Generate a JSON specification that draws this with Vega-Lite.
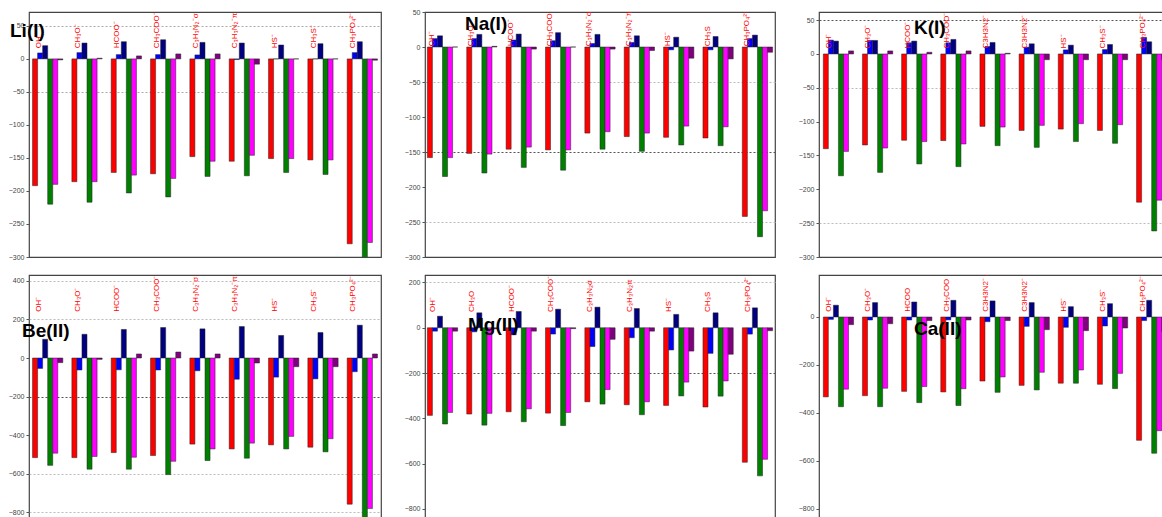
{
  "$schema": "https://vega.github.io/schema/vega-lite/v6.json",
  "padding": {"left": 7, "top": 7, "right": 0, "bottom": 0},
  "bounds": "flush",
  "columns": 3,
  "spacing": {"row": 18, "column": 44},
  "background": "white",
  "config": {
    "font": "Liberation Sans",
    "view": {"stroke": "#444", "strokeWidth": 1.2},
    "title": {"font": "Liberation Sans", "fontSize": 19, "fontWeight": "bold", "color": "#000", "anchor": "start", "frame": "group", "offset": 0, "baseline": "alphabetic"},
    "axisY": {"domain": false, "tickSize": 3, "tickColor": "#555", "labelFontSize": 7, "labelColor": "#444", "labelPadding": 2, "labelOverlap": false, "labelBound": false, "title": null, "gridDash": [2, 2], "gridWidth": 1},
    "scale": {"offsetBandPaddingInner": 0, "offsetBandPaddingOuter": 0}
  },
  "datasets": {
    "bars": [
      {"metal": "Li", "ligand": "OH", "series": "s1", "value": -192}, {"metal": "Li", "ligand": "OH", "series": "s2", "value": 9}, {"metal": "Li", "ligand": "OH", "series": "s3", "value": 20}, {"metal": "Li", "ligand": "OH", "series": "s4", "value": -220}, {"metal": "Li", "ligand": "OH", "series": "s5", "value": -190}, {"metal": "Li", "ligand": "OH", "series": "s6", "value": -1.5},
      {"metal": "Li", "ligand": "CH3O", "series": "s1", "value": -186}, {"metal": "Li", "ligand": "CH3O", "series": "s2", "value": 9.5}, {"metal": "Li", "ligand": "CH3O", "series": "s3", "value": 24}, {"metal": "Li", "ligand": "CH3O", "series": "s4", "value": -217}, {"metal": "Li", "ligand": "CH3O", "series": "s5", "value": -186}, {"metal": "Li", "ligand": "CH3O", "series": "s6", "value": 1},
      {"metal": "Li", "ligand": "HCOO", "series": "s1", "value": -172}, {"metal": "Li", "ligand": "HCOO", "series": "s2", "value": 6.5}, {"metal": "Li", "ligand": "HCOO", "series": "s3", "value": 26}, {"metal": "Li", "ligand": "HCOO", "series": "s4", "value": -203}, {"metal": "Li", "ligand": "HCOO", "series": "s5", "value": -176}, {"metal": "Li", "ligand": "HCOO", "series": "s6", "value": 4.5},
      {"metal": "Li", "ligand": "CH3COO", "series": "s1", "value": -174}, {"metal": "Li", "ligand": "CH3COO", "series": "s2", "value": 6.5}, {"metal": "Li", "ligand": "CH3COO", "series": "s3", "value": 29}, {"metal": "Li", "ligand": "CH3COO", "series": "s4", "value": -209}, {"metal": "Li", "ligand": "CH3COO", "series": "s5", "value": -181}, {"metal": "Li", "ligand": "CH3COO", "series": "s6", "value": 7.5},
      {"metal": "Li", "ligand": "C3H3N2s", "series": "s1", "value": -148}, {"metal": "Li", "ligand": "C3H3N2s", "series": "s2", "value": 6}, {"metal": "Li", "ligand": "C3H3N2s", "series": "s3", "value": 25}, {"metal": "Li", "ligand": "C3H3N2s", "series": "s4", "value": -178}, {"metal": "Li", "ligand": "C3H3N2s", "series": "s5", "value": -155}, {"metal": "Li", "ligand": "C3H3N2s", "series": "s6", "value": 7.5},
      {"metal": "Li", "ligand": "C3H3N2p", "series": "s1", "value": -155}, {"metal": "Li", "ligand": "C3H3N2p", "series": "s2", "value": -1}, {"metal": "Li", "ligand": "C3H3N2p", "series": "s3", "value": 24}, {"metal": "Li", "ligand": "C3H3N2p", "series": "s4", "value": -177}, {"metal": "Li", "ligand": "C3H3N2p", "series": "s5", "value": -146}, {"metal": "Li", "ligand": "C3H3N2p", "series": "s6", "value": -8},
      {"metal": "Li", "ligand": "HS", "series": "s1", "value": -151}, {"metal": "Li", "ligand": "HS", "series": "s2", "value": 0}, {"metal": "Li", "ligand": "HS", "series": "s3", "value": 21}, {"metal": "Li", "ligand": "HS", "series": "s4", "value": -172}, {"metal": "Li", "ligand": "HS", "series": "s5", "value": -151}, {"metal": "Li", "ligand": "HS", "series": "s6", "value": 0},
      {"metal": "Li", "ligand": "CH3S", "series": "s1", "value": -153}, {"metal": "Li", "ligand": "CH3S", "series": "s2", "value": 0}, {"metal": "Li", "ligand": "CH3S", "series": "s3", "value": 23}, {"metal": "Li", "ligand": "CH3S", "series": "s4", "value": -175}, {"metal": "Li", "ligand": "CH3S", "series": "s5", "value": -153}, {"metal": "Li", "ligand": "CH3S", "series": "s6", "value": 0},
      {"metal": "Li", "ligand": "CH3PO4", "series": "s1", "value": -280}, {"metal": "Li", "ligand": "CH3PO4", "series": "s2", "value": 9.5}, {"metal": "Li", "ligand": "CH3PO4", "series": "s3", "value": 26}, {"metal": "Li", "ligand": "CH3PO4", "series": "s4", "value": -302}, {"metal": "Li", "ligand": "CH3PO4", "series": "s5", "value": -278}, {"metal": "Li", "ligand": "CH3PO4", "series": "s6", "value": -2},

      {"metal": "Na", "ligand": "OH", "series": "s1", "value": -158}, {"metal": "Na", "ligand": "OH", "series": "s2", "value": 12}, {"metal": "Na", "ligand": "OH", "series": "s3", "value": 16}, {"metal": "Na", "ligand": "OH", "series": "s4", "value": -185}, {"metal": "Na", "ligand": "OH", "series": "s5", "value": -158}, {"metal": "Na", "ligand": "OH", "series": "s6", "value": 0},
      {"metal": "Na", "ligand": "CH3O", "series": "s1", "value": -152}, {"metal": "Na", "ligand": "CH3O", "series": "s2", "value": 12}, {"metal": "Na", "ligand": "CH3O", "series": "s3", "value": 18}, {"metal": "Na", "ligand": "CH3O", "series": "s4", "value": -180}, {"metal": "Na", "ligand": "CH3O", "series": "s5", "value": -153}, {"metal": "Na", "ligand": "CH3O", "series": "s6", "value": 1},
      {"metal": "Na", "ligand": "HCOO", "series": "s1", "value": -146}, {"metal": "Na", "ligand": "HCOO", "series": "s2", "value": 10}, {"metal": "Na", "ligand": "HCOO", "series": "s3", "value": 18.5}, {"metal": "Na", "ligand": "HCOO", "series": "s4", "value": -172}, {"metal": "Na", "ligand": "HCOO", "series": "s5", "value": -143}, {"metal": "Na", "ligand": "HCOO", "series": "s6", "value": -3},
      {"metal": "Na", "ligand": "CH3COO", "series": "s1", "value": -147}, {"metal": "Na", "ligand": "CH3COO", "series": "s2", "value": 9}, {"metal": "Na", "ligand": "CH3COO", "series": "s3", "value": 20.5}, {"metal": "Na", "ligand": "CH3COO", "series": "s4", "value": -176}, {"metal": "Na", "ligand": "CH3COO", "series": "s5", "value": -147}, {"metal": "Na", "ligand": "CH3COO", "series": "s6", "value": 0},
      {"metal": "Na", "ligand": "C3H3N2s", "series": "s1", "value": -123}, {"metal": "Na", "ligand": "C3H3N2s", "series": "s2", "value": 5}, {"metal": "Na", "ligand": "C3H3N2s", "series": "s3", "value": 18}, {"metal": "Na", "ligand": "C3H3N2s", "series": "s4", "value": -146}, {"metal": "Na", "ligand": "C3H3N2s", "series": "s5", "value": -121}, {"metal": "Na", "ligand": "C3H3N2s", "series": "s6", "value": -3},
      {"metal": "Na", "ligand": "C3H3N2p", "series": "s1", "value": -128}, {"metal": "Na", "ligand": "C3H3N2p", "series": "s2", "value": 6.5}, {"metal": "Na", "ligand": "C3H3N2p", "series": "s3", "value": 16}, {"metal": "Na", "ligand": "C3H3N2p", "series": "s4", "value": -149}, {"metal": "Na", "ligand": "C3H3N2p", "series": "s5", "value": -123}, {"metal": "Na", "ligand": "C3H3N2p", "series": "s6", "value": -5},
      {"metal": "Na", "ligand": "HS", "series": "s1", "value": -129}, {"metal": "Na", "ligand": "HS", "series": "s2", "value": -4}, {"metal": "Na", "ligand": "HS", "series": "s3", "value": 14}, {"metal": "Na", "ligand": "HS", "series": "s4", "value": -140}, {"metal": "Na", "ligand": "HS", "series": "s5", "value": -113}, {"metal": "Na", "ligand": "HS", "series": "s6", "value": -16},
      {"metal": "Na", "ligand": "CH3S", "series": "s1", "value": -130}, {"metal": "Na", "ligand": "CH3S", "series": "s2", "value": -4}, {"metal": "Na", "ligand": "CH3S", "series": "s3", "value": 15}, {"metal": "Na", "ligand": "CH3S", "series": "s4", "value": -141}, {"metal": "Na", "ligand": "CH3S", "series": "s5", "value": -114}, {"metal": "Na", "ligand": "CH3S", "series": "s6", "value": -17},
      {"metal": "Na", "ligand": "CH3PO4", "series": "s1", "value": -242}, {"metal": "Na", "ligand": "CH3PO4", "series": "s2", "value": 12}, {"metal": "Na", "ligand": "CH3PO4", "series": "s3", "value": 17}, {"metal": "Na", "ligand": "CH3PO4", "series": "s4", "value": -271}, {"metal": "Na", "ligand": "CH3PO4", "series": "s5", "value": -234}, {"metal": "Na", "ligand": "CH3PO4", "series": "s6", "value": -7.5},

      {"metal": "K", "ligand": "OH", "series": "s1", "value": -140}, {"metal": "K", "ligand": "OH", "series": "s2", "value": 20.5}, {"metal": "K", "ligand": "OH", "series": "s3", "value": 19}, {"metal": "K", "ligand": "OH", "series": "s4", "value": -180}, {"metal": "K", "ligand": "OH", "series": "s5", "value": -144}, {"metal": "K", "ligand": "OH", "series": "s6", "value": 4.5},
      {"metal": "K", "ligand": "CH3O", "series": "s1", "value": -134.5}, {"metal": "K", "ligand": "CH3O", "series": "s2", "value": 20}, {"metal": "K", "ligand": "CH3O", "series": "s3", "value": 20}, {"metal": "K", "ligand": "CH3O", "series": "s4", "value": -175}, {"metal": "K", "ligand": "CH3O", "series": "s5", "value": -139}, {"metal": "K", "ligand": "CH3O", "series": "s6", "value": 4.5},
      {"metal": "K", "ligand": "HCOO", "series": "s1", "value": -127.5}, {"metal": "K", "ligand": "HCOO", "series": "s2", "value": 16.5}, {"metal": "K", "ligand": "HCOO", "series": "s3", "value": 19}, {"metal": "K", "ligand": "HCOO", "series": "s4", "value": -162.5}, {"metal": "K", "ligand": "HCOO", "series": "s5", "value": -129.5}, {"metal": "K", "ligand": "HCOO", "series": "s6", "value": 2.5},
      {"metal": "K", "ligand": "CH3COO", "series": "s1", "value": -128}, {"metal": "K", "ligand": "CH3COO", "series": "s2", "value": 16.5}, {"metal": "K", "ligand": "CH3COO", "series": "s3", "value": 21.5}, {"metal": "K", "ligand": "CH3COO", "series": "s4", "value": -166.5}, {"metal": "K", "ligand": "CH3COO", "series": "s5", "value": -133}, {"metal": "K", "ligand": "CH3COO", "series": "s6", "value": 4.5},
      {"metal": "K", "ligand": "C3H3N2s", "series": "s1", "value": -107}, {"metal": "K", "ligand": "C3H3N2s", "series": "s2", "value": 11}, {"metal": "K", "ligand": "C3H3N2s", "series": "s3", "value": 17}, {"metal": "K", "ligand": "C3H3N2s", "series": "s4", "value": -135.5}, {"metal": "K", "ligand": "C3H3N2s", "series": "s5", "value": -108}, {"metal": "K", "ligand": "C3H3N2s", "series": "s6", "value": 1},
      {"metal": "K", "ligand": "C3H3N2p", "series": "s1", "value": -113}, {"metal": "K", "ligand": "C3H3N2p", "series": "s2", "value": 10}, {"metal": "K", "ligand": "C3H3N2p", "series": "s3", "value": 15}, {"metal": "K", "ligand": "C3H3N2p", "series": "s4", "value": -138}, {"metal": "K", "ligand": "C3H3N2p", "series": "s5", "value": -105.5}, {"metal": "K", "ligand": "C3H3N2p", "series": "s6", "value": -8.5},
      {"metal": "K", "ligand": "HS", "series": "s1", "value": -111}, {"metal": "K", "ligand": "HS", "series": "s2", "value": 6}, {"metal": "K", "ligand": "HS", "series": "s3", "value": 13}, {"metal": "K", "ligand": "HS", "series": "s4", "value": -129.5}, {"metal": "K", "ligand": "HS", "series": "s5", "value": -103}, {"metal": "K", "ligand": "HS", "series": "s6", "value": -8.5},
      {"metal": "K", "ligand": "CH3S", "series": "s1", "value": -113}, {"metal": "K", "ligand": "CH3S", "series": "s2", "value": 6.5}, {"metal": "K", "ligand": "CH3S", "series": "s3", "value": 14}, {"metal": "K", "ligand": "CH3S", "series": "s4", "value": -132}, {"metal": "K", "ligand": "CH3S", "series": "s5", "value": -104.5}, {"metal": "K", "ligand": "CH3S", "series": "s6", "value": -8.5},
      {"metal": "K", "ligand": "CH3PO4", "series": "s1", "value": -219}, {"metal": "K", "ligand": "CH3PO4", "series": "s2", "value": 24.5}, {"metal": "K", "ligand": "CH3PO4", "series": "s3", "value": 18}, {"metal": "K", "ligand": "CH3PO4", "series": "s4", "value": -261.5}, {"metal": "K", "ligand": "CH3PO4", "series": "s5", "value": -216}, {"metal": "K", "ligand": "CH3PO4", "series": "s6", "value": -8},

      {"metal": "Be", "ligand": "OH", "series": "s1", "value": -516}, {"metal": "Be", "ligand": "OH", "series": "s2", "value": -54}, {"metal": "Be", "ligand": "OH", "series": "s3", "value": 97}, {"metal": "Be", "ligand": "OH", "series": "s4", "value": -556}, {"metal": "Be", "ligand": "OH", "series": "s5", "value": -493}, {"metal": "Be", "ligand": "OH", "series": "s6", "value": -24},
      {"metal": "Be", "ligand": "CH3O", "series": "s1", "value": -516}, {"metal": "Be", "ligand": "CH3O", "series": "s2", "value": -62}, {"metal": "Be", "ligand": "CH3O", "series": "s3", "value": 123}, {"metal": "Be", "ligand": "CH3O", "series": "s4", "value": -576}, {"metal": "Be", "ligand": "CH3O", "series": "s5", "value": -510}, {"metal": "Be", "ligand": "CH3O", "series": "s6", "value": -7},
      {"metal": "Be", "ligand": "HCOO", "series": "s1", "value": -490}, {"metal": "Be", "ligand": "HCOO", "series": "s2", "value": -61}, {"metal": "Be", "ligand": "HCOO", "series": "s3", "value": 148}, {"metal": "Be", "ligand": "HCOO", "series": "s4", "value": -576}, {"metal": "Be", "ligand": "HCOO", "series": "s5", "value": -514}, {"metal": "Be", "ligand": "HCOO", "series": "s6", "value": 21},
      {"metal": "Be", "ligand": "CH3COO", "series": "s1", "value": -505}, {"metal": "Be", "ligand": "CH3COO", "series": "s2", "value": -62}, {"metal": "Be", "ligand": "CH3COO", "series": "s3", "value": 158}, {"metal": "Be", "ligand": "CH3COO", "series": "s4", "value": -604}, {"metal": "Be", "ligand": "CH3COO", "series": "s5", "value": -535}, {"metal": "Be", "ligand": "CH3COO", "series": "s6", "value": 31},
      {"metal": "Be", "ligand": "C3H3N2s", "series": "s1", "value": -446}, {"metal": "Be", "ligand": "C3H3N2s", "series": "s2", "value": -66}, {"metal": "Be", "ligand": "C3H3N2s", "series": "s3", "value": 151}, {"metal": "Be", "ligand": "C3H3N2s", "series": "s4", "value": -531}, {"metal": "Be", "ligand": "C3H3N2s", "series": "s5", "value": -471}, {"metal": "Be", "ligand": "C3H3N2s", "series": "s6", "value": 21},
      {"metal": "Be", "ligand": "C3H3N2p", "series": "s1", "value": -471}, {"metal": "Be", "ligand": "C3H3N2p", "series": "s2", "value": -110}, {"metal": "Be", "ligand": "C3H3N2p", "series": "s3", "value": 163}, {"metal": "Be", "ligand": "C3H3N2p", "series": "s4", "value": -519}, {"metal": "Be", "ligand": "C3H3N2p", "series": "s5", "value": -441}, {"metal": "Be", "ligand": "C3H3N2p", "series": "s6", "value": -26},
      {"metal": "Be", "ligand": "HS", "series": "s1", "value": -450}, {"metal": "Be", "ligand": "HS", "series": "s2", "value": -99}, {"metal": "Be", "ligand": "HS", "series": "s3", "value": 117}, {"metal": "Be", "ligand": "HS", "series": "s4", "value": -471}, {"metal": "Be", "ligand": "HS", "series": "s5", "value": -406}, {"metal": "Be", "ligand": "HS", "series": "s6", "value": -45},
      {"metal": "Be", "ligand": "CH3S", "series": "s1", "value": -462}, {"metal": "Be", "ligand": "CH3S", "series": "s2", "value": -108}, {"metal": "Be", "ligand": "CH3S", "series": "s3", "value": 132}, {"metal": "Be", "ligand": "CH3S", "series": "s4", "value": -486}, {"metal": "Be", "ligand": "CH3S", "series": "s5", "value": -418}, {"metal": "Be", "ligand": "CH3S", "series": "s6", "value": -45},
      {"metal": "Be", "ligand": "CH3PO4", "series": "s1", "value": -757}, {"metal": "Be", "ligand": "CH3PO4", "series": "s2", "value": -71}, {"metal": "Be", "ligand": "CH3PO4", "series": "s3", "value": 170}, {"metal": "Be", "ligand": "CH3PO4", "series": "s4", "value": -840}, {"metal": "Be", "ligand": "CH3PO4", "series": "s5", "value": -780}, {"metal": "Be", "ligand": "CH3PO4", "series": "s6", "value": 21},

      {"metal": "Mg", "ligand": "OH", "series": "s1", "value": -387}, {"metal": "Mg", "ligand": "OH", "series": "s2", "value": -15}, {"metal": "Mg", "ligand": "OH", "series": "s3", "value": 51}, {"metal": "Mg", "ligand": "OH", "series": "s4", "value": -425}, {"metal": "Mg", "ligand": "OH", "series": "s5", "value": -374}, {"metal": "Mg", "ligand": "OH", "series": "s6", "value": -15},
      {"metal": "Mg", "ligand": "CH3O", "series": "s1", "value": -381}, {"metal": "Mg", "ligand": "CH3O", "series": "s2", "value": -18}, {"metal": "Mg", "ligand": "CH3O", "series": "s3", "value": 66}, {"metal": "Mg", "ligand": "CH3O", "series": "s4", "value": -430}, {"metal": "Mg", "ligand": "CH3O", "series": "s5", "value": -378}, {"metal": "Mg", "ligand": "CH3O", "series": "s6", "value": -5},
      {"metal": "Mg", "ligand": "HCOO", "series": "s1", "value": -371}, {"metal": "Mg", "ligand": "HCOO", "series": "s2", "value": -31}, {"metal": "Mg", "ligand": "HCOO", "series": "s3", "value": 72}, {"metal": "Mg", "ligand": "HCOO", "series": "s4", "value": -415}, {"metal": "Mg", "ligand": "HCOO", "series": "s5", "value": -358}, {"metal": "Mg", "ligand": "HCOO", "series": "s6", "value": -15},
      {"metal": "Mg", "ligand": "CH3COO", "series": "s1", "value": -377}, {"metal": "Mg", "ligand": "CH3COO", "series": "s2", "value": -28}, {"metal": "Mg", "ligand": "CH3COO", "series": "s3", "value": 82}, {"metal": "Mg", "ligand": "CH3COO", "series": "s4", "value": -432}, {"metal": "Mg", "ligand": "CH3COO", "series": "s5", "value": -374}, {"metal": "Mg", "ligand": "CH3COO", "series": "s6", "value": -4},
      {"metal": "Mg", "ligand": "C3H3N2s", "series": "s1", "value": -327}, {"metal": "Mg", "ligand": "C3H3N2s", "series": "s2", "value": -83}, {"metal": "Mg", "ligand": "C3H3N2s", "series": "s3", "value": 91}, {"metal": "Mg", "ligand": "C3H3N2s", "series": "s4", "value": -337}, {"metal": "Mg", "ligand": "C3H3N2s", "series": "s5", "value": -273}, {"metal": "Mg", "ligand": "C3H3N2s", "series": "s6", "value": -51},
      {"metal": "Mg", "ligand": "C3H3N2p", "series": "s1", "value": -340}, {"metal": "Mg", "ligand": "C3H3N2p", "series": "s2", "value": -44}, {"metal": "Mg", "ligand": "C3H3N2p", "series": "s3", "value": 85}, {"metal": "Mg", "ligand": "C3H3N2p", "series": "s4", "value": -384}, {"metal": "Mg", "ligand": "C3H3N2p", "series": "s5", "value": -327}, {"metal": "Mg", "ligand": "C3H3N2p", "series": "s6", "value": -15},
      {"metal": "Mg", "ligand": "HS", "series": "s1", "value": -343}, {"metal": "Mg", "ligand": "HS", "series": "s2", "value": -98}, {"metal": "Mg", "ligand": "HS", "series": "s3", "value": 59}, {"metal": "Mg", "ligand": "HS", "series": "s4", "value": -301}, {"metal": "Mg", "ligand": "HS", "series": "s5", "value": -240}, {"metal": "Mg", "ligand": "HS", "series": "s6", "value": -103},
      {"metal": "Mg", "ligand": "CH3S", "series": "s1", "value": -350}, {"metal": "Mg", "ligand": "CH3S", "series": "s2", "value": -113}, {"metal": "Mg", "ligand": "CH3S", "series": "s3", "value": 66}, {"metal": "Mg", "ligand": "CH3S", "series": "s4", "value": -302}, {"metal": "Mg", "ligand": "CH3S", "series": "s5", "value": -235}, {"metal": "Mg", "ligand": "CH3S", "series": "s6", "value": -117},
      {"metal": "Mg", "ligand": "CH3PO4", "series": "s1", "value": -594}, {"metal": "Mg", "ligand": "CH3PO4", "series": "s2", "value": -28}, {"metal": "Mg", "ligand": "CH3PO4", "series": "s3", "value": 88}, {"metal": "Mg", "ligand": "CH3PO4", "series": "s4", "value": -654}, {"metal": "Mg", "ligand": "CH3PO4", "series": "s5", "value": -581}, {"metal": "Mg", "ligand": "CH3PO4", "series": "s6", "value": -13},

      {"metal": "Ca", "ligand": "OH", "series": "s1", "value": -333}, {"metal": "Ca", "ligand": "OH", "series": "s2", "value": -10}, {"metal": "Ca", "ligand": "OH", "series": "s3", "value": 49}, {"metal": "Ca", "ligand": "OH", "series": "s4", "value": -374}, {"metal": "Ca", "ligand": "OH", "series": "s5", "value": -301}, {"metal": "Ca", "ligand": "OH", "series": "s6", "value": -32},
      {"metal": "Ca", "ligand": "CH3O", "series": "s1", "value": -328}, {"metal": "Ca", "ligand": "CH3O", "series": "s2", "value": -12.5}, {"metal": "Ca", "ligand": "CH3O", "series": "s3", "value": 60}, {"metal": "Ca", "ligand": "CH3O", "series": "s4", "value": -374}, {"metal": "Ca", "ligand": "CH3O", "series": "s5", "value": -297}, {"metal": "Ca", "ligand": "CH3O", "series": "s6", "value": -28},
      {"metal": "Ca", "ligand": "HCOO", "series": "s1", "value": -310}, {"metal": "Ca", "ligand": "HCOO", "series": "s2", "value": -12.5}, {"metal": "Ca", "ligand": "HCOO", "series": "s3", "value": 62.5}, {"metal": "Ca", "ligand": "HCOO", "series": "s4", "value": -357}, {"metal": "Ca", "ligand": "HCOO", "series": "s5", "value": -290}, {"metal": "Ca", "ligand": "HCOO", "series": "s6", "value": -15},
      {"metal": "Ca", "ligand": "CH3COO", "series": "s1", "value": -312.5}, {"metal": "Ca", "ligand": "CH3COO", "series": "s2", "value": -12}, {"metal": "Ca", "ligand": "CH3COO", "series": "s3", "value": 69.5}, {"metal": "Ca", "ligand": "CH3COO", "series": "s4", "value": -369}, {"metal": "Ca", "ligand": "CH3COO", "series": "s5", "value": -299}, {"metal": "Ca", "ligand": "CH3COO", "series": "s6", "value": -12.5},
      {"metal": "Ca", "ligand": "C3H3N2s", "series": "s1", "value": -267}, {"metal": "Ca", "ligand": "C3H3N2s", "series": "s2", "value": -19.5}, {"metal": "Ca", "ligand": "C3H3N2s", "series": "s3", "value": 67}, {"metal": "Ca", "ligand": "C3H3N2s", "series": "s4", "value": -314}, {"metal": "Ca", "ligand": "C3H3N2s", "series": "s5", "value": -250}, {"metal": "Ca", "ligand": "C3H3N2s", "series": "s6", "value": -15},
      {"metal": "Ca", "ligand": "C3H3N2p", "series": "s1", "value": -285}, {"metal": "Ca", "ligand": "C3H3N2p", "series": "s2", "value": -39}, {"metal": "Ca", "ligand": "C3H3N2p", "series": "s3", "value": 60}, {"metal": "Ca", "ligand": "C3H3N2p", "series": "s4", "value": -304}, {"metal": "Ca", "ligand": "C3H3N2p", "series": "s5", "value": -230.5}, {"metal": "Ca", "ligand": "C3H3N2p", "series": "s6", "value": -53},
      {"metal": "Ca", "ligand": "HS", "series": "s1", "value": -276}, {"metal": "Ca", "ligand": "HS", "series": "s2", "value": -43}, {"metal": "Ca", "ligand": "HS", "series": "s3", "value": 43}, {"metal": "Ca", "ligand": "HS", "series": "s4", "value": -276}, {"metal": "Ca", "ligand": "HS", "series": "s5", "value": -221}, {"metal": "Ca", "ligand": "HS", "series": "s6", "value": -57},
      {"metal": "Ca", "ligand": "CH3S", "series": "s1", "value": -280.5}, {"metal": "Ca", "ligand": "CH3S", "series": "s2", "value": -37.5}, {"metal": "Ca", "ligand": "CH3S", "series": "s3", "value": 55.5}, {"metal": "Ca", "ligand": "CH3S", "series": "s4", "value": -298.5}, {"metal": "Ca", "ligand": "CH3S", "series": "s5", "value": -235}, {"metal": "Ca", "ligand": "CH3S", "series": "s6", "value": -46},
      {"metal": "Ca", "ligand": "CH3PO4", "series": "s1", "value": -514}, {"metal": "Ca", "ligand": "CH3PO4", "series": "s2", "value": -15}, {"metal": "Ca", "ligand": "CH3PO4", "series": "s3", "value": 69.5}, {"metal": "Ca", "ligand": "CH3PO4", "series": "s4", "value": -568}, {"metal": "Ca", "ligand": "CH3PO4", "series": "s5", "value": -474}, {"metal": "Ca", "ligand": "CH3PO4", "series": "s6", "value": -60}
    ],
    "labels": [
      {"metal": "Li", "ligand": "OH", "label": "OH⁻"}, {"metal": "Li", "ligand": "CH3O", "label": "CH₃O⁻"}, {"metal": "Li", "ligand": "HCOO", "label": "HCOO⁻"}, {"metal": "Li", "ligand": "CH3COO", "label": "CH₃COO⁻"}, {"metal": "Li", "ligand": "C3H3N2s", "label": "C₃H₃N₂⁻σ"}, {"metal": "Li", "ligand": "C3H3N2p", "label": "C₃H₃N₂⁻π"}, {"metal": "Li", "ligand": "HS", "label": "HS⁻"}, {"metal": "Li", "ligand": "CH3S", "label": "CH₃S⁻"}, {"metal": "Li", "ligand": "CH3PO4", "label": "CH₃PO₄²⁻"},
      {"metal": "Na", "ligand": "OH", "label": "OH⁻"}, {"metal": "Na", "ligand": "CH3O", "label": "CH₃O⁻"}, {"metal": "Na", "ligand": "HCOO", "label": "HCOO⁻"}, {"metal": "Na", "ligand": "CH3COO", "label": "CH₃COO⁻"}, {"metal": "Na", "ligand": "C3H3N2s", "label": "C₃H₃N₂⁻σ"}, {"metal": "Na", "ligand": "C3H3N2p", "label": "C₃H₃N₂⁻π"}, {"metal": "Na", "ligand": "HS", "label": "HS⁻"}, {"metal": "Na", "ligand": "CH3S", "label": "CH₃S"}, {"metal": "Na", "ligand": "CH3PO4", "label": "CH₃PO₄²⁻"},
      {"metal": "K", "ligand": "OH", "label": "OH⁻"}, {"metal": "K", "ligand": "CH3O", "label": "CH₃O⁻"}, {"metal": "K", "ligand": "HCOO", "label": "HCOO⁻"}, {"metal": "K", "ligand": "CH3COO", "label": "CH₃COO⁻"}, {"metal": "K", "ligand": "C3H3N2s", "label": "C3H3N2⁻ σ"}, {"metal": "K", "ligand": "C3H3N2p", "label": "C3H3N2⁻ π"}, {"metal": "K", "ligand": "HS", "label": "HS⁻"}, {"metal": "K", "ligand": "CH3S", "label": "CH₃S⁻"}, {"metal": "K", "ligand": "CH3PO4", "label": "CH₃PO₄²⁻"},
      {"metal": "Be", "ligand": "OH", "label": "OH⁻"}, {"metal": "Be", "ligand": "CH3O", "label": "CH₃O⁻"}, {"metal": "Be", "ligand": "HCOO", "label": "HCOO⁻"}, {"metal": "Be", "ligand": "CH3COO", "label": "CH₃COO⁻"}, {"metal": "Be", "ligand": "C3H3N2s", "label": "C₃H₃N₂⁻σ"}, {"metal": "Be", "ligand": "C3H3N2p", "label": "C₃H₃N₂⁻π"}, {"metal": "Be", "ligand": "HS", "label": "HS⁻"}, {"metal": "Be", "ligand": "CH3S", "label": "CH₃S⁻"}, {"metal": "Be", "ligand": "CH3PO4", "label": "CH₃PO₄²⁻"},
      {"metal": "Mg", "ligand": "OH", "label": "OH⁻"}, {"metal": "Mg", "ligand": "CH3O", "label": "CH₃O"}, {"metal": "Mg", "ligand": "HCOO", "label": "HCOO⁻"}, {"metal": "Mg", "ligand": "CH3COO", "label": "CH₃COO⁻"}, {"metal": "Mg", "ligand": "C3H3N2s", "label": "C₃H₃N₂σ"}, {"metal": "Mg", "ligand": "C3H3N2p", "label": "C₃H₃N₂π"}, {"metal": "Mg", "ligand": "HS", "label": "HS⁻"}, {"metal": "Mg", "ligand": "CH3S", "label": "CH₃S"}, {"metal": "Mg", "ligand": "CH3PO4", "label": "CH₃PO₄²⁻"},
      {"metal": "Ca", "ligand": "OH", "label": "OH⁻"}, {"metal": "Ca", "ligand": "CH3O", "label": "CH₃O⁻"}, {"metal": "Ca", "ligand": "HCOO", "label": "HCOO"}, {"metal": "Ca", "ligand": "CH3COO", "label": "CH₃COO"}, {"metal": "Ca", "ligand": "C3H3N2s", "label": "C3H3N2⁻ σ"}, {"metal": "Ca", "ligand": "C3H3N2p", "label": "C3H3N2⁻ π"}, {"metal": "Ca", "ligand": "HS", "label": "HS⁻"}, {"metal": "Ca", "ligand": "CH3S", "label": "CH₃S⁻"}, {"metal": "Ca", "ligand": "CH3PO4", "label": "CH₃PO₄²⁻"}
    ]
  },
  "concat": [
    {
      "width": 352, "height": 245,
      "title": {"text": "Li(I)", "dx": -19, "dy": 33},
      "resolve": {"axis": {"y": "independent"}},
      "layer": [
        {"data": {"name": "bars"}, "transform": [{"filter": "datum.metal == 'Li'"}],
         "mark": {"type": "bar", "clip": true, "stroke": "#222", "strokeWidth": 0.5},
         "encoding": {
           "x": {"field": "ligand", "type": "nominal", "sort": ["OH", "CH3O", "HCOO", "CH3COO", "C3H3N2s", "C3H3N2p", "HS", "CH3S", "CH3PO4"], "axis": null, "scale": {"paddingInner": 0.23, "paddingOuter": 0.09}},
           "xOffset": {"field": "series", "type": "nominal", "sort": ["s1", "s2", "s3", "s4", "s5", "s6"]},
           "y": {"field": "value", "type": "quantitative", "scale": {"domain": [-300, 71], "nice": false, "zero": false},
                 "axis": {"title": null, "values": [50, 0, -50, -100, -150, -200, -250, -300], "grid": true,
                          "gridOpacity": {"condition": {"test": "datum.value == 50 || datum.value == -50", "value": 1}, "value": 0},
                          "gridColor": "#aaa"}},
           "color": {"field": "series", "type": "nominal", "legend": null, "scale": {"domain": ["s1", "s2", "s3", "s4", "s5", "s6"], "range": ["#ff0000", "#0000ff", "#000080", "#008000", "#ff00ff", "#800080"]}}
         }},
        {"mark": {"type": "rule", "color": "#888", "strokeWidth": 1.5}, "encoding": {"y": {"datum": 0, "type": "quantitative", "axis": null}}},
        {"data": {"name": "labels"}, "transform": [{"filter": "datum.metal == 'Li'"}],
         "mark": {"type": "text", "angle": 270, "align": "left", "baseline": "middle", "fontSize": 8, "color": "#ff0000", "clip": true},
         "encoding": {
           "x": {"field": "ligand", "type": "nominal", "bandPosition": 0.2, "sort": ["OH", "CH3O", "HCOO", "CH3COO", "C3H3N2s", "C3H3N2p", "HS", "CH3S", "CH3PO4"]},
           "y": {"datum": 16, "type": "quantitative", "axis": null},
           "text": {"field": "label"}
         }}
      ]
    },
    {
      "width": 350, "height": 245,
      "title": {"text": "Na(I)", "dx": 40, "dy": 30},
      "resolve": {"axis": {"y": "independent"}},
      "layer": [
        {"data": {"name": "bars"}, "transform": [{"filter": "datum.metal == 'Na'"}],
         "mark": {"type": "bar", "clip": true, "stroke": "#222", "strokeWidth": 0.5},
         "encoding": {
           "x": {"field": "ligand", "type": "nominal", "sort": ["OH", "CH3O", "HCOO", "CH3COO", "C3H3N2s", "C3H3N2p", "HS", "CH3S", "CH3PO4"], "axis": null, "scale": {"paddingInner": 0.23, "paddingOuter": 0.06}},
           "xOffset": {"field": "series", "type": "nominal", "sort": ["s1", "s2", "s3", "s4", "s5", "s6"]},
           "y": {"field": "value", "type": "quantitative", "scale": {"domain": [-300, 50], "nice": false, "zero": false},
                 "axis": {"title": null, "values": [50, 0, -50, -100, -150, -200, -250, -300], "grid": true,
                          "gridOpacity": {"condition": {"test": "datum.value == -50 || datum.value == -150 || datum.value == -250", "value": 1}, "value": 0},
                          "gridColor": {"condition": {"test": "datum.value == -150", "value": "#555"}, "value": "#bbb"}}},
           "color": {"field": "series", "type": "nominal", "legend": null}
         }},
        {"mark": {"type": "rule", "color": "#444", "strokeWidth": 1.2}, "encoding": {"y": {"datum": 0, "type": "quantitative", "axis": null}}},
        {"data": {"name": "labels"}, "transform": [{"filter": "datum.metal == 'Na'"}],
         "mark": {"type": "text", "angle": 270, "align": "left", "baseline": "middle", "fontSize": 8, "color": "#ff0000", "clip": true},
         "encoding": {
           "x": {"field": "ligand", "type": "nominal", "bandPosition": 0.15, "sort": ["OH", "CH3O", "HCOO", "CH3COO", "C3H3N2s", "C3H3N2p", "HS", "CH3S", "CH3PO4"]},
           "y": {"datum": 1, "type": "quantitative", "axis": null},
           "text": {"field": "label"}
         }}
      ]
    },
    {
      "width": 352, "height": 245,
      "title": {"text": "K(I)", "dx": 95, "dy": 30},
      "resolve": {"axis": {"y": "independent"}},
      "layer": [
        {"data": {"name": "bars"}, "transform": [{"filter": "datum.metal == 'K'"}],
         "mark": {"type": "bar", "clip": true, "stroke": "#222", "strokeWidth": 0.5},
         "encoding": {
           "x": {"field": "ligand", "type": "nominal", "sort": ["OH", "CH3O", "HCOO", "CH3COO", "C3H3N2s", "C3H3N2p", "HS", "CH3S", "CH3PO4"], "axis": null, "scale": {"paddingInner": 0.23, "paddingOuter": 0.11}},
           "xOffset": {"field": "series", "type": "nominal", "sort": ["s1", "s2", "s3", "s4", "s5", "s6"]},
           "y": {"field": "value", "type": "quantitative", "scale": {"domain": [-300, 62], "nice": false, "zero": false},
                 "axis": {"title": null, "values": [50, 0, -50, -100, -150, -200, -250, -300], "grid": true,
                          "gridOpacity": {"condition": {"test": "datum.value == 50 || datum.value == -50 || datum.value == -250", "value": 1}, "value": 0},
                          "gridColor": {"condition": {"test": "datum.value == 50", "value": "#555"}, "value": "#bbb"}}},
           "color": {"field": "series", "type": "nominal", "legend": null}
         }},
        {"mark": {"type": "rule", "color": "#444", "strokeWidth": 1.2}, "encoding": {"y": {"datum": 0, "type": "quantitative", "axis": null}}},
        {"data": {"name": "labels"}, "transform": [{"filter": "datum.metal == 'K'"}],
         "mark": {"type": "text", "angle": 270, "align": "left", "baseline": "middle", "fontSize": 8, "color": "#ff0000", "clip": true},
         "encoding": {
           "x": {"field": "ligand", "type": "nominal", "bandPosition": 0.2, "sort": ["OH", "CH3O", "HCOO", "CH3COO", "C3H3N2s", "C3H3N2p", "HS", "CH3S", "CH3PO4"]},
           "y": {"datum": 8, "type": "quantitative", "axis": null},
           "text": {"field": "label"}
         }}
      ]
    },
    {
      "width": 352, "height": 250,
      "title": {"text": "Be(II)", "dx": -7, "dy": 70},
      "resolve": {"axis": {"y": "independent"}},
      "layer": [
        {"data": {"name": "bars"}, "transform": [{"filter": "datum.metal == 'Be'"}],
         "mark": {"type": "bar", "clip": true, "stroke": "#222", "strokeWidth": 0.5},
         "encoding": {
           "x": {"field": "ligand", "type": "nominal", "sort": ["OH", "CH3O", "HCOO", "CH3COO", "C3H3N2s", "C3H3N2p", "HS", "CH3S", "CH3PO4"], "axis": null, "scale": {"paddingInner": 0.23, "paddingOuter": 0.09}},
           "xOffset": {"field": "series", "type": "nominal", "sort": ["s1", "s2", "s3", "s4", "s5", "s6"]},
           "y": {"field": "value", "type": "quantitative", "scale": {"domain": [-865, 430], "nice": false, "zero": false},
                 "axis": {"title": null, "values": [400, 200, 0, -200, -400, -600, -800], "grid": true,
                          "gridOpacity": {"condition": {"test": "datum.value != 0 && datum.value != -400", "value": 1}, "value": 0},
                          "gridColor": {"condition": {"test": "datum.value == -200", "value": "#555"}, "value": "#bbb"}}},
           "color": {"field": "series", "type": "nominal", "legend": null}
         }},
        {"mark": {"type": "rule", "color": "#888", "strokeWidth": 1.5}, "encoding": {"y": {"datum": 0, "type": "quantitative", "axis": null}}},
        {"data": {"name": "labels"}, "transform": [{"filter": "datum.metal == 'Be'"}],
         "mark": {"type": "text", "angle": 270, "align": "left", "baseline": "middle", "fontSize": 8, "color": "#ff0000", "clip": true},
         "encoding": {
           "x": {"field": "ligand", "type": "nominal", "bandPosition": 0.2, "sort": ["OH", "CH3O", "HCOO", "CH3COO", "C3H3N2s", "C3H3N2p", "HS", "CH3S", "CH3PO4"]},
           "y": {"datum": 240, "type": "quantitative", "axis": null},
           "text": {"field": "label"}
         }}
      ]
    },
    {
      "width": 350, "height": 250,
      "title": {"text": "Mg(II)", "dx": 43, "dy": 64},
      "resolve": {"axis": {"y": "independent"}},
      "layer": [
        {"data": {"name": "bars"}, "transform": [{"filter": "datum.metal == 'Mg'"}],
         "mark": {"type": "bar", "clip": true, "stroke": "#222", "strokeWidth": 0.5},
         "encoding": {
           "x": {"field": "ligand", "type": "nominal", "sort": ["OH", "CH3O", "HCOO", "CH3COO", "C3H3N2s", "C3H3N2p", "HS", "CH3S", "CH3PO4"], "axis": null, "scale": {"paddingInner": 0.23, "paddingOuter": 0.06}},
           "xOffset": {"field": "series", "type": "nominal", "sort": ["s1", "s2", "s3", "s4", "s5", "s6"]},
           "y": {"field": "value", "type": "quantitative", "scale": {"domain": [-871, 233], "nice": false, "zero": false},
                 "axis": {"title": null, "values": [200, 0, -200, -400, -600, -800], "grid": true,
                          "gridOpacity": {"condition": {"test": "datum.value == 200 || datum.value == -200", "value": 1}, "value": 0},
                          "gridColor": {"condition": {"test": "datum.value == -200", "value": "#555"}, "value": "#bbb"}}},
           "color": {"field": "series", "type": "nominal", "legend": null}
         }},
        {"mark": {"type": "rule", "color": "#888", "strokeWidth": 1.5}, "encoding": {"y": {"datum": 0, "type": "quantitative", "axis": null}}},
        {"data": {"name": "labels"}, "transform": [{"filter": "datum.metal == 'Mg'"}],
         "mark": {"type": "text", "angle": 270, "align": "left", "baseline": "middle", "fontSize": 8, "color": "#ff0000", "clip": true},
         "encoding": {
           "x": {"field": "ligand", "type": "nominal", "bandPosition": 0.18, "sort": ["OH", "CH3O", "HCOO", "CH3COO", "C3H3N2s", "C3H3N2p", "HS", "CH3S", "CH3PO4"]},
           "y": {"datum": 70, "type": "quantitative", "axis": null},
           "text": {"field": "label"}
         }}
      ]
    },
    {
      "width": 352, "height": 250,
      "title": {"text": "Ca(II)", "dx": 95, "dy": 68},
      "resolve": {"axis": {"y": "independent"}},
      "layer": [
        {"data": {"name": "bars"}, "transform": [{"filter": "datum.metal == 'Ca'"}],
         "mark": {"type": "bar", "clip": true, "stroke": "#222", "strokeWidth": 0.5},
         "encoding": {
           "x": {"field": "ligand", "type": "nominal", "sort": ["OH", "CH3O", "HCOO", "CH3COO", "C3H3N2s", "C3H3N2p", "HS", "CH3S", "CH3PO4"], "axis": null, "scale": {"paddingInner": 0.23, "paddingOuter": 0.11}},
           "xOffset": {"field": "series", "type": "nominal", "sort": ["s1", "s2", "s3", "s4", "s5", "s6"]},
           "y": {"field": "value", "type": "quantitative", "scale": {"domain": [-867, 175], "nice": false, "zero": false},
                 "axis": {"title": null, "values": [0, -200, -400, -600, -800], "grid": false}},
           "color": {"field": "series", "type": "nominal", "legend": null}
         }},
        {"mark": {"type": "rule", "color": "#999", "strokeWidth": 1.5}, "encoding": {"y": {"datum": 0, "type": "quantitative", "axis": null}}},
        {"data": {"name": "labels"}, "transform": [{"filter": "datum.metal == 'Ca'"}],
         "mark": {"type": "text", "angle": 270, "align": "left", "baseline": "middle", "fontSize": 8, "color": "#ff0000", "clip": true},
         "encoding": {
           "x": {"field": "ligand", "type": "nominal", "bandPosition": 0.2, "sort": ["OH", "CH3O", "HCOO", "CH3COO", "C3H3N2s", "C3H3N2p", "HS", "CH3S", "CH3PO4"]},
           "y": {"datum": 22, "type": "quantitative", "axis": null},
           "text": {"field": "label"}
         }}
      ]
    }
  ]
}
